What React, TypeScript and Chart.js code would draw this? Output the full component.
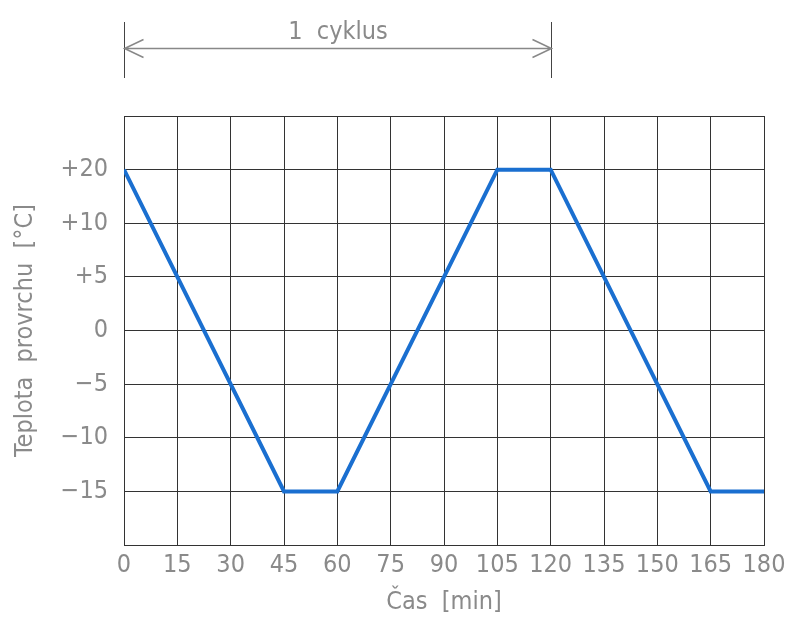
import React, { useEffect, useRef } from "react";
import { Chart, registerables } from "chart.js";

Chart.register(...registerables);

// Surface temperature cycle
const timeMin = [0, 45, 60, 105, 120, 165, 180];
const surfaceTemp = [20, -15, -15, 20, 20, -15, -15];

// Temperature levels shown on the vertical axis, evenly spaced (bottom to top)
const tempLevels = [-15, -10, -5, 0, 5, 10, 20];
const tempLabels = ["\u221215", "\u221210", "\u22125", "0", "+5", "+10", "+20"];

// One-cycle dimension span
const cycleSpan = [0, 120];
const cycleLabel = "1  cyklus";

const FONT = "'DejaVu Sans Condensed', 'DejaVu Sans', sans-serif";
const TEXT = "#8a8a8a";
const SIZE = 25;

const dimensionPlugin = {
  id: "cycleDimension",
  afterDraw(chart: any) {
    const { ctx } = chart;
    const xs = chart.scales.x;
    const x1 = Math.round(xs.getPixelForValue(cycleSpan[0])) + 0.5;
    const x2 = Math.round(xs.getPixelForValue(cycleSpan[1])) + 0.5;
    const yLine = 48.5;
    ctx.save();
    ctx.strokeStyle = "#444";
    ctx.lineWidth = 1;
    ctx.beginPath();
    ctx.moveTo(x1, 22);
    ctx.lineTo(x1, 78);
    ctx.moveTo(x2, 22);
    ctx.lineTo(x2, 78);
    ctx.stroke();
    ctx.strokeStyle = "#888";
    ctx.lineWidth = 1.5;
    ctx.beginPath();
    ctx.moveTo(x1, yLine);
    ctx.lineTo(x2, yLine);
    ctx.moveTo(x1 + 19, yLine - 9);
    ctx.lineTo(x1, yLine);
    ctx.lineTo(x1 + 19, yLine + 9);
    ctx.moveTo(x2 - 19, yLine - 9);
    ctx.lineTo(x2, yLine);
    ctx.lineTo(x2 - 19, yLine + 9);
    ctx.stroke();
    ctx.fillStyle = TEXT;
    ctx.font = `${SIZE}px ${FONT}`;
    ctx.textAlign = "center";
    ctx.textBaseline = "alphabetic";
    ctx.fillText(cycleLabel, (x1 + x2) / 2, 39);
    ctx.restore();
  },
};

export default function App() {
  const ref = useRef<HTMLCanvasElement>(null);

  useEffect(() => {
    document.body.style.margin = "0";
    const canvas = ref.current!;
    const chart = new Chart(canvas, {
      type: "line",
      data: {
        datasets: [
          {
            data: timeMin.map((t, i) => ({ x: t, y: tempLevels.indexOf(surfaceTemp[i]) })),
            borderColor: "#1a6fd0",
            borderWidth: 4,
            pointRadius: 0,
            tension: 0,
            fill: false,
          },
        ],
      },
      options: {
        animation: false,
        responsive: false,
        maintainAspectRatio: false,
        events: [],
        layout: { padding: { top: 116, right: 28, left: 0, bottom: 0 } },
        plugins: { legend: { display: false }, tooltip: { enabled: false } },
        scales: {
          x: {
            type: "linear",
            min: 0,
            max: 180,
            afterFit: (s: any) => {
              s.height = 78;
            },
            ticks: {
              stepSize: 15,
              color: TEXT,
              padding: 5,
              maxRotation: 0,
              autoSkip: false,
              font: { family: FONT, size: SIZE },
            },
            grid: { color: "#333", lineWidth: 1, drawTicks: false },
            border: { color: "#333", width: 1 },
            title: {
              display: true,
              text: "\u010Cas  [min]",
              color: TEXT,
              padding: { top: 2, bottom: 6 },
              font: { family: FONT, size: SIZE },
            },
          },
          y: {
            type: "linear",
            min: -1,
            max: 7,
            afterFit: (s: any) => {
              s.width = 124;
            },
            ticks: {
              stepSize: 1,
              color: TEXT,
              padding: 16,
              autoSkip: false,
              font: { family: FONT, size: SIZE },
              callback: (v: any) => (v >= 0 && v < tempLabels.length ? tempLabels[v] : ""),
            },
            grid: { color: "#333", lineWidth: 1, drawTicks: false },
            border: { color: "#333", width: 1 },
            title: {
              display: true,
              text: "Teplota  provrchu  [\u00B0C]",
              color: TEXT,
              padding: { top: 10, bottom: 0 },
              font: { family: FONT, size: SIZE },
            },
          },
        },
      },
      plugins: [dimensionPlugin],
    });
    return () => chart.destroy();
  }, []);

  return (
    <div style={{ position: "relative", width: 792, height: 623 }}>
      <canvas ref={ref} width={792} height={623} style={{ display: "block", width: 792, height: 623 }} />
    </div>
  );
}
